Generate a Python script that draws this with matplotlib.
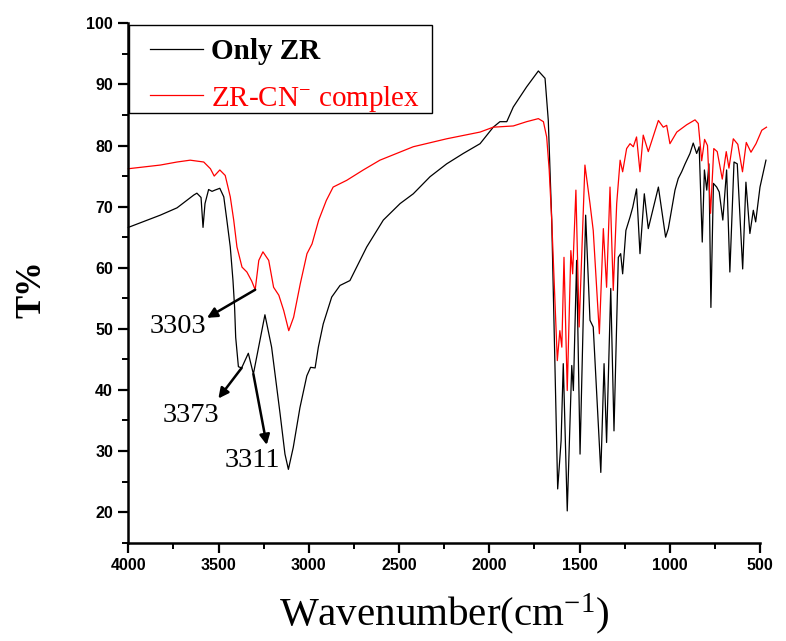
import matplotlib
matplotlib.use('Agg')
import matplotlib.pyplot as plt
from matplotlib.patches import Rectangle
from matplotlib.ticker import MultipleLocator

plt.rcParams['font.family'] = ['Liberation Sans', 'DejaVu Sans']
plt.rcParams['mathtext.fontset'] = 'custom'
plt.rcParams['mathtext.rm'] = 'Liberation Serif'
plt.rcParams['mathtext.it'] = 'Liberation Serif:italic'
plt.rcParams['mathtext.bf'] = 'Liberation Serif:bold'

# FTIR spectrum, only ZR (black)
wn_zr = [4000, 3823, 3730, 3637, 3620, 3597, 3586, 3575, 3555, 3536, 3520, 3493,
         3471, 3454, 3435, 3420, 3411, 3405, 3390, 3372, 3335, 3307, 3243, 3206,
         3159, 3132, 3113, 3086, 3049, 3011, 2990, 2965, 2947, 2920, 2873, 2827,
         2772, 2679, 2587, 2494, 2421, 2328, 2236, 2144, 2051, 1978, 1941, 1903,
         1867, 1793, 1728, 1691, 1673, 1654, 1621, 1602, 1590, 1568, 1543, 1534,
         1516, 1497, 1466, 1442, 1424, 1382, 1364, 1350, 1327, 1309, 1285, 1272,
         1261, 1243, 1220, 1205, 1184, 1165, 1141, 1119, 1063, 1023, 1008, 971,
         953, 934, 915, 888, 870, 851, 837, 820, 808, 795, 783, 772, 758, 740,
         726, 706, 685, 667, 644, 626, 596, 578, 556, 537, 524, 500, 467]
t_zr = [66.6, 68.6, 69.8, 71.9, 72.2, 71.5, 66.6, 70.5, 72.8, 72.5, 72.7, 73.0,
        71.6, 67.8, 63.4, 57.9, 53.5, 48.6, 43.8, 43.6, 46.0, 42.6, 52.3, 47.0,
        36.1, 29.5, 27.0, 30.6, 37.1, 42.3, 43.7, 43.6, 47.0, 50.8, 55.2, 57.1,
        57.9, 63.4, 67.8, 70.5, 72.1, 74.9, 77.0, 78.7, 80.3, 83.0, 83.9, 83.9,
        86.3, 89.6, 92.2, 91.0, 84.1, 67.8, 23.8, 31.7, 44.3, 20.2, 44.0, 39.9,
        61.2, 29.5, 68.6, 51.4, 50.3, 26.5, 44.3, 31.4, 56.6, 33.3, 61.7, 62.3,
        59.0, 66.1, 68.3, 69.9, 72.9, 62.3, 72.1, 66.4, 73.2, 65.0, 66.4, 72.7,
        74.6, 75.7, 77.0, 78.7, 80.4, 78.7, 79.8, 64.2, 76.0, 72.7, 77.0, 53.5,
        73.8, 73.2, 72.4, 67.8, 76.0, 59.3, 77.3, 77.0, 59.8, 74.0, 65.6, 69.4,
        67.5, 73.2, 77.6]

# FTIR spectrum, ZR-CN- complex (red)
wn_cn = [4000, 3823, 3730, 3657, 3582, 3545, 3524, 3493, 3463, 3435, 3416, 3398,
         3370, 3343, 3316, 3297, 3277, 3254, 3222, 3195, 3166, 3139, 3111, 3084,
         3047, 3010, 2982, 2945, 2903, 2865, 2790, 2698, 2606, 2421, 2236, 2051,
         1978, 1867, 1793, 1728, 1700, 1682, 1668, 1654, 1623, 1609, 1598, 1586,
         1568, 1548, 1538, 1520, 1502, 1470, 1442, 1424, 1390, 1368, 1350, 1331,
         1313, 1294, 1275, 1261, 1239, 1220, 1202, 1184, 1165, 1147, 1119, 1063,
         1036, 1017, 999, 961, 906, 860, 842, 823, 807, 791, 774, 756, 737, 709,
         687, 672, 648, 623, 597, 576, 550, 522, 490, 464]
t_cn = [76.2, 76.8, 77.3, 77.6, 77.3, 76.2, 75.0, 76.0, 75.1, 71.6, 67.8, 63.4,
        60.1, 59.3, 57.8, 56.4, 61.2, 62.6, 61.2, 56.8, 55.5, 53.0, 49.7, 51.9,
        57.4, 62.3, 63.9, 67.8, 71.0, 73.2, 74.3, 76.0, 77.6, 79.8, 81.1, 82.2,
        83.0, 83.2, 83.9, 84.4, 83.9, 81.4, 76.0, 67.8, 44.8, 49.7, 47.0, 61.7,
        39.9, 62.8, 59.0, 72.7, 50.3, 76.8, 70.5, 66.1, 49.2, 66.4, 56.8, 73.2,
        56.3, 70.5, 77.6, 75.7, 79.5, 80.3, 79.8, 81.4, 75.7, 81.7, 79.0, 84.1,
        83.0, 83.3, 80.3, 82.2, 83.4, 84.2, 83.6, 77.5, 81.0, 80.0, 68.9, 79.5,
        79.0, 74.5, 79.0, 76.3, 81.1, 80.2, 75.7, 80.5, 78.9, 80.3, 82.5, 83.0]

W, H = 786, 641
fig = plt.figure(figsize=(W / 100, H / 100), dpi=100)
ax = fig.add_axes([128.3 / W, 1 - 542.7 / H, (760 - 128.3) / W, (542.7 - 23.3) / H])

ax.plot(wn_zr, t_zr, color='black', lw=0.9, label='Only ZR', clip_on=False)
ax.plot(wn_cn, t_cn, color='#ff0000', lw=0.9, label='ZR-CN$^{-}$ complex', clip_on=False)

ax.set_xlim(4000, 500)
ax.set_ylim(15, 100)
ax.xaxis.set_major_locator(MultipleLocator(500))
ax.xaxis.set_minor_locator(MultipleLocator(250))
ax.yaxis.set_major_locator(MultipleLocator(10))
ax.yaxis.set_minor_locator(MultipleLocator(5))

for side in ['top', 'right']:
    ax.spines[side].set_visible(False)
for side in ['left', 'bottom']:
    ax.spines[side].set_linewidth(1.8)

ax.tick_params(which='major', direction='out', length=7, width=1.6, labelsize=11.5, pad=4)
ax.tick_params(which='minor', direction='out', length=4, width=1.4)
plt.setp(ax.get_xticklabels() + ax.get_yticklabels(), fontweight='bold')

ax.set_ylabel('T%', fontsize=25, fontweight='bold', family='Liberation Serif')
ax.yaxis.set_label_coords(-0.127, 0.489)
ax.set_xlabel('Wavenumber(cm$^{-1}$)', fontsize=29.5, family='Liberation Serif')
ax.xaxis.set_label_coords(0.5, -0.095)

# peak annotations
arrow = dict(arrowstyle='-|>', color='black', lw=1.8, mutation_scale=15, shrinkA=0, shrinkB=0)
ax.annotate('', xy=(3564, 51.8), xytext=(3297, 56.4), arrowprops=arrow)
ax.text(3725, 50.3, '3303', fontsize=20.5, family='Liberation Serif', ha='center', va='center')
ax.annotate('', xy=(3501, 38.6), xytext=(3372, 43.6), arrowprops=arrow)
ax.text(3653, 35.8, '3373', fontsize=20.5, family='Liberation Serif', ha='center', va='center')
ax.annotate('', xy=(3233, 31.0), xytext=(3307, 42.6), arrowprops=arrow)
ax.text(3315, 28.4, '3311', fontsize=20.5, family='Liberation Serif', ha='center', va='center')

# legend with a hand-placed frame
leg = ax.legend(loc='upper left', bbox_to_anchor=(21.7 / 631.7, (542.7 - 38.5) / 519.4),
                borderaxespad=0, borderpad=0, frameon=False,
                prop={'family': 'Liberation Serif', 'size': 21, 'weight': 'bold'},
                handlelength=1.8, handletextpad=0.28, labelspacing=0.62)
leg.get_texts()[1].set_color('#ff0000')
leg.get_texts()[1].set_fontweight('normal')
ax.add_patch(Rectangle((0.7 / 631.7, (542.7 - 113) / 519.4), 303 / 631.7, 88 / 519.4,
                       transform=ax.transAxes, fill=False, edgecolor='black', lw=1.0,
                       clip_on=False, zorder=5))

fig.savefig('out.png', dpi=100)
